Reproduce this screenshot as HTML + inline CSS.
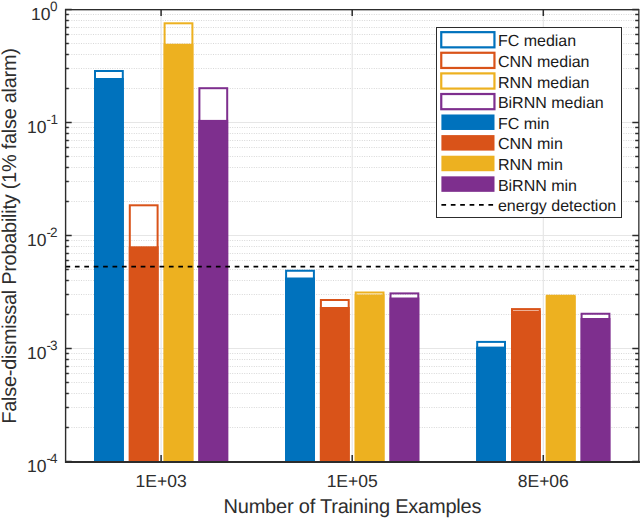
<!DOCTYPE html>
<html><head><meta charset="utf-8"><style>svg text{font-family:"Liberation Sans",sans-serif;text-rendering:geometricPrecision}html,body{margin:0;padding:0;background:#fff;width:640px;height:518px;overflow:hidden}</style></head><body>
<svg width="640" height="518" viewBox="0 0 640 518" style="display:block">
<rect x="0" y="0" width="640" height="518" fill="#fff"/>
<line x1="69.0" y1="88.5" x2="635.0" y2="88.5" stroke="#d8d8d8" stroke-width="1" stroke-dasharray="1 1.4"/>
<line x1="69.0" y1="68.5" x2="635.0" y2="68.5" stroke="#d8d8d8" stroke-width="1" stroke-dasharray="1 1.4"/>
<line x1="69.0" y1="54.5" x2="635.0" y2="54.5" stroke="#d8d8d8" stroke-width="1" stroke-dasharray="1 1.4"/>
<line x1="69.0" y1="43.5" x2="635.0" y2="43.5" stroke="#d8d8d8" stroke-width="1" stroke-dasharray="1 1.4"/>
<line x1="69.0" y1="34.5" x2="635.0" y2="34.5" stroke="#d8d8d8" stroke-width="1" stroke-dasharray="1 1.4"/>
<line x1="69.0" y1="27.5" x2="635.0" y2="27.5" stroke="#d8d8d8" stroke-width="1" stroke-dasharray="1 1.4"/>
<line x1="69.0" y1="20.5" x2="635.0" y2="20.5" stroke="#d8d8d8" stroke-width="1" stroke-dasharray="1 1.4"/>
<line x1="69.0" y1="14.5" x2="635.0" y2="14.5" stroke="#d8d8d8" stroke-width="1" stroke-dasharray="1 1.4"/>
<line x1="69.0" y1="201.5" x2="635.0" y2="201.5" stroke="#d8d8d8" stroke-width="1" stroke-dasharray="1 1.4"/>
<line x1="69.0" y1="181.5" x2="635.0" y2="181.5" stroke="#d8d8d8" stroke-width="1" stroke-dasharray="1 1.4"/>
<line x1="69.0" y1="167.5" x2="635.0" y2="167.5" stroke="#d8d8d8" stroke-width="1" stroke-dasharray="1 1.4"/>
<line x1="69.0" y1="156.5" x2="635.0" y2="156.5" stroke="#d8d8d8" stroke-width="1" stroke-dasharray="1 1.4"/>
<line x1="69.0" y1="147.5" x2="635.0" y2="147.5" stroke="#d8d8d8" stroke-width="1" stroke-dasharray="1 1.4"/>
<line x1="69.0" y1="140.5" x2="635.0" y2="140.5" stroke="#d8d8d8" stroke-width="1" stroke-dasharray="1 1.4"/>
<line x1="69.0" y1="133.5" x2="635.0" y2="133.5" stroke="#d8d8d8" stroke-width="1" stroke-dasharray="1 1.4"/>
<line x1="69.0" y1="127.5" x2="635.0" y2="127.5" stroke="#d8d8d8" stroke-width="1" stroke-dasharray="1 1.4"/>
<line x1="69.0" y1="314.5" x2="635.0" y2="314.5" stroke="#d8d8d8" stroke-width="1" stroke-dasharray="1 1.4"/>
<line x1="69.0" y1="294.5" x2="635.0" y2="294.5" stroke="#d8d8d8" stroke-width="1" stroke-dasharray="1 1.4"/>
<line x1="69.0" y1="280.5" x2="635.0" y2="280.5" stroke="#d8d8d8" stroke-width="1" stroke-dasharray="1 1.4"/>
<line x1="69.0" y1="269.5" x2="635.0" y2="269.5" stroke="#d8d8d8" stroke-width="1" stroke-dasharray="1 1.4"/>
<line x1="69.0" y1="260.5" x2="635.0" y2="260.5" stroke="#d8d8d8" stroke-width="1" stroke-dasharray="1 1.4"/>
<line x1="69.0" y1="253.5" x2="635.0" y2="253.5" stroke="#d8d8d8" stroke-width="1" stroke-dasharray="1 1.4"/>
<line x1="69.0" y1="246.5" x2="635.0" y2="246.5" stroke="#d8d8d8" stroke-width="1" stroke-dasharray="1 1.4"/>
<line x1="69.0" y1="240.5" x2="635.0" y2="240.5" stroke="#d8d8d8" stroke-width="1" stroke-dasharray="1 1.4"/>
<line x1="69.0" y1="427.5" x2="635.0" y2="427.5" stroke="#d8d8d8" stroke-width="1" stroke-dasharray="1 1.4"/>
<line x1="69.0" y1="407.5" x2="635.0" y2="407.5" stroke="#d8d8d8" stroke-width="1" stroke-dasharray="1 1.4"/>
<line x1="69.0" y1="393.5" x2="635.0" y2="393.5" stroke="#d8d8d8" stroke-width="1" stroke-dasharray="1 1.4"/>
<line x1="69.0" y1="382.5" x2="635.0" y2="382.5" stroke="#d8d8d8" stroke-width="1" stroke-dasharray="1 1.4"/>
<line x1="69.0" y1="373.5" x2="635.0" y2="373.5" stroke="#d8d8d8" stroke-width="1" stroke-dasharray="1 1.4"/>
<line x1="69.0" y1="366.5" x2="635.0" y2="366.5" stroke="#d8d8d8" stroke-width="1" stroke-dasharray="1 1.4"/>
<line x1="69.0" y1="359.5" x2="635.0" y2="359.5" stroke="#d8d8d8" stroke-width="1" stroke-dasharray="1 1.4"/>
<line x1="69.0" y1="353.5" x2="635.0" y2="353.5" stroke="#d8d8d8" stroke-width="1" stroke-dasharray="1 1.4"/>
<line x1="65.0" y1="122.5" x2="639.0" y2="122.5" stroke="#e6e6e6" stroke-width="1"/>
<line x1="65.0" y1="235.5" x2="639.0" y2="235.5" stroke="#e6e6e6" stroke-width="1"/>
<line x1="65.0" y1="348.5" x2="639.0" y2="348.5" stroke="#e6e6e6" stroke-width="1"/>
<line x1="161.1" y1="9.0" x2="161.1" y2="462.0" stroke="#e6e6e6" stroke-width="1.2"/>
<line x1="352.2" y1="9.0" x2="352.2" y2="462.0" stroke="#e6e6e6" stroke-width="1.2"/>
<line x1="543.3" y1="9.0" x2="543.3" y2="462.0" stroke="#e6e6e6" stroke-width="1.2"/>
<rect x="95.00" y="71.00" width="27.80" height="391.00" fill="none" stroke="#0072BD" stroke-width="2"/>
<rect x="94.00" y="78.00" width="29.80" height="384.00" fill="#0072BD"/>
<rect x="129.80" y="205.30" width="27.80" height="256.70" fill="none" stroke="#D95319" stroke-width="2"/>
<rect x="128.80" y="246.30" width="29.80" height="215.70" fill="#D95319"/>
<rect x="164.60" y="23.30" width="27.80" height="438.70" fill="none" stroke="#EDB120" stroke-width="2"/>
<rect x="163.60" y="43.75" width="29.80" height="418.25" fill="#EDB120"/>
<rect x="199.40" y="88.20" width="27.80" height="373.80" fill="none" stroke="#7E2F8E" stroke-width="2"/>
<rect x="198.40" y="119.90" width="29.80" height="342.10" fill="#7E2F8E"/>
<rect x="286.10" y="270.75" width="27.80" height="191.25" fill="none" stroke="#0072BD" stroke-width="2"/>
<rect x="285.10" y="277.50" width="29.80" height="184.50" fill="#0072BD"/>
<rect x="320.90" y="300.00" width="27.80" height="162.00" fill="none" stroke="#D95319" stroke-width="2"/>
<rect x="319.90" y="307.00" width="29.80" height="155.00" fill="#D95319"/>
<rect x="355.70" y="292.50" width="27.80" height="169.50" fill="none" stroke="#EDB120" stroke-width="2"/>
<rect x="354.70" y="294.40" width="29.80" height="167.60" fill="#EDB120"/>
<rect x="390.50" y="293.40" width="27.80" height="168.60" fill="none" stroke="#7E2F8E" stroke-width="2"/>
<rect x="389.50" y="297.50" width="29.80" height="164.50" fill="#7E2F8E"/>
<rect x="477.20" y="341.90" width="27.80" height="120.10" fill="none" stroke="#0072BD" stroke-width="2"/>
<rect x="476.20" y="346.60" width="29.80" height="115.40" fill="#0072BD"/>
<rect x="512.00" y="309.10" width="27.80" height="152.90" fill="none" stroke="#D95319" stroke-width="2"/>
<rect x="511.00" y="310.60" width="29.80" height="151.40" fill="#D95319"/>
<rect x="546.80" y="295.75" width="27.80" height="166.25" fill="none" stroke="#EDB120" stroke-width="2"/>
<rect x="545.80" y="296.00" width="29.80" height="166.00" fill="#EDB120"/>
<rect x="581.60" y="313.75" width="27.80" height="148.25" fill="none" stroke="#7E2F8E" stroke-width="2"/>
<rect x="580.60" y="318.00" width="29.80" height="144.00" fill="#7E2F8E"/>
<line x1="65.5" y1="266.7" x2="639.0" y2="266.7" stroke="#000" stroke-width="1.7" stroke-dasharray="4.7 4.7"/>
<rect x="64.9" y="9" width="1.4" height="454" fill="#2c2c2c"/>
<rect x="65" y="9" width="574" height="1.35" fill="#2c2c2c"/>
<rect x="638" y="9" width="1" height="454" fill="#555"/>
<rect x="639" y="9" width="1" height="454" fill="#9a9a9a"/>
<rect x="65" y="461" width="575" height="2" fill="#2c2c2c"/>
<line x1="65.0" y1="9.5" x2="71.7" y2="9.5" stroke="#2c2c2c" stroke-width="1.5"/>
<line x1="632.3" y1="9.5" x2="639.0" y2="9.5" stroke="#2c2c2c" stroke-width="1.5"/>
<line x1="65.0" y1="122.5" x2="71.7" y2="122.5" stroke="#2c2c2c" stroke-width="1.5"/>
<line x1="632.3" y1="122.5" x2="639.0" y2="122.5" stroke="#2c2c2c" stroke-width="1.5"/>
<line x1="65.0" y1="235.5" x2="71.7" y2="235.5" stroke="#2c2c2c" stroke-width="1.5"/>
<line x1="632.3" y1="235.5" x2="639.0" y2="235.5" stroke="#2c2c2c" stroke-width="1.5"/>
<line x1="65.0" y1="348.5" x2="71.7" y2="348.5" stroke="#2c2c2c" stroke-width="1.5"/>
<line x1="632.3" y1="348.5" x2="639.0" y2="348.5" stroke="#2c2c2c" stroke-width="1.5"/>
<line x1="65.0" y1="461.5" x2="71.7" y2="461.5" stroke="#2c2c2c" stroke-width="1.5"/>
<line x1="632.3" y1="461.5" x2="639.0" y2="461.5" stroke="#2c2c2c" stroke-width="1.5"/>
<line x1="65.0" y1="88.5" x2="68.8" y2="88.5" stroke="#2c2c2c" stroke-width="1.5"/>
<line x1="635.2" y1="88.5" x2="639.0" y2="88.5" stroke="#2c2c2c" stroke-width="1.5"/>
<line x1="65.0" y1="68.5" x2="68.8" y2="68.5" stroke="#2c2c2c" stroke-width="1.5"/>
<line x1="635.2" y1="68.5" x2="639.0" y2="68.5" stroke="#2c2c2c" stroke-width="1.5"/>
<line x1="65.0" y1="54.5" x2="68.8" y2="54.5" stroke="#2c2c2c" stroke-width="1.5"/>
<line x1="635.2" y1="54.5" x2="639.0" y2="54.5" stroke="#2c2c2c" stroke-width="1.5"/>
<line x1="65.0" y1="43.5" x2="68.8" y2="43.5" stroke="#2c2c2c" stroke-width="1.5"/>
<line x1="635.2" y1="43.5" x2="639.0" y2="43.5" stroke="#2c2c2c" stroke-width="1.5"/>
<line x1="65.0" y1="34.5" x2="68.8" y2="34.5" stroke="#2c2c2c" stroke-width="1.5"/>
<line x1="635.2" y1="34.5" x2="639.0" y2="34.5" stroke="#2c2c2c" stroke-width="1.5"/>
<line x1="65.0" y1="27.5" x2="68.8" y2="27.5" stroke="#2c2c2c" stroke-width="1.5"/>
<line x1="635.2" y1="27.5" x2="639.0" y2="27.5" stroke="#2c2c2c" stroke-width="1.5"/>
<line x1="65.0" y1="20.5" x2="68.8" y2="20.5" stroke="#2c2c2c" stroke-width="1.5"/>
<line x1="635.2" y1="20.5" x2="639.0" y2="20.5" stroke="#2c2c2c" stroke-width="1.5"/>
<line x1="65.0" y1="14.5" x2="68.8" y2="14.5" stroke="#2c2c2c" stroke-width="1.5"/>
<line x1="635.2" y1="14.5" x2="639.0" y2="14.5" stroke="#2c2c2c" stroke-width="1.5"/>
<line x1="65.0" y1="201.5" x2="68.8" y2="201.5" stroke="#2c2c2c" stroke-width="1.5"/>
<line x1="635.2" y1="201.5" x2="639.0" y2="201.5" stroke="#2c2c2c" stroke-width="1.5"/>
<line x1="65.0" y1="181.5" x2="68.8" y2="181.5" stroke="#2c2c2c" stroke-width="1.5"/>
<line x1="635.2" y1="181.5" x2="639.0" y2="181.5" stroke="#2c2c2c" stroke-width="1.5"/>
<line x1="65.0" y1="167.5" x2="68.8" y2="167.5" stroke="#2c2c2c" stroke-width="1.5"/>
<line x1="635.2" y1="167.5" x2="639.0" y2="167.5" stroke="#2c2c2c" stroke-width="1.5"/>
<line x1="65.0" y1="156.5" x2="68.8" y2="156.5" stroke="#2c2c2c" stroke-width="1.5"/>
<line x1="635.2" y1="156.5" x2="639.0" y2="156.5" stroke="#2c2c2c" stroke-width="1.5"/>
<line x1="65.0" y1="147.5" x2="68.8" y2="147.5" stroke="#2c2c2c" stroke-width="1.5"/>
<line x1="635.2" y1="147.5" x2="639.0" y2="147.5" stroke="#2c2c2c" stroke-width="1.5"/>
<line x1="65.0" y1="140.5" x2="68.8" y2="140.5" stroke="#2c2c2c" stroke-width="1.5"/>
<line x1="635.2" y1="140.5" x2="639.0" y2="140.5" stroke="#2c2c2c" stroke-width="1.5"/>
<line x1="65.0" y1="133.5" x2="68.8" y2="133.5" stroke="#2c2c2c" stroke-width="1.5"/>
<line x1="635.2" y1="133.5" x2="639.0" y2="133.5" stroke="#2c2c2c" stroke-width="1.5"/>
<line x1="65.0" y1="127.5" x2="68.8" y2="127.5" stroke="#2c2c2c" stroke-width="1.5"/>
<line x1="635.2" y1="127.5" x2="639.0" y2="127.5" stroke="#2c2c2c" stroke-width="1.5"/>
<line x1="65.0" y1="314.5" x2="68.8" y2="314.5" stroke="#2c2c2c" stroke-width="1.5"/>
<line x1="635.2" y1="314.5" x2="639.0" y2="314.5" stroke="#2c2c2c" stroke-width="1.5"/>
<line x1="65.0" y1="294.5" x2="68.8" y2="294.5" stroke="#2c2c2c" stroke-width="1.5"/>
<line x1="635.2" y1="294.5" x2="639.0" y2="294.5" stroke="#2c2c2c" stroke-width="1.5"/>
<line x1="65.0" y1="280.5" x2="68.8" y2="280.5" stroke="#2c2c2c" stroke-width="1.5"/>
<line x1="635.2" y1="280.5" x2="639.0" y2="280.5" stroke="#2c2c2c" stroke-width="1.5"/>
<line x1="65.0" y1="269.5" x2="68.8" y2="269.5" stroke="#2c2c2c" stroke-width="1.5"/>
<line x1="635.2" y1="269.5" x2="639.0" y2="269.5" stroke="#2c2c2c" stroke-width="1.5"/>
<line x1="65.0" y1="260.5" x2="68.8" y2="260.5" stroke="#2c2c2c" stroke-width="1.5"/>
<line x1="635.2" y1="260.5" x2="639.0" y2="260.5" stroke="#2c2c2c" stroke-width="1.5"/>
<line x1="65.0" y1="253.5" x2="68.8" y2="253.5" stroke="#2c2c2c" stroke-width="1.5"/>
<line x1="635.2" y1="253.5" x2="639.0" y2="253.5" stroke="#2c2c2c" stroke-width="1.5"/>
<line x1="65.0" y1="246.5" x2="68.8" y2="246.5" stroke="#2c2c2c" stroke-width="1.5"/>
<line x1="635.2" y1="246.5" x2="639.0" y2="246.5" stroke="#2c2c2c" stroke-width="1.5"/>
<line x1="65.0" y1="240.5" x2="68.8" y2="240.5" stroke="#2c2c2c" stroke-width="1.5"/>
<line x1="635.2" y1="240.5" x2="639.0" y2="240.5" stroke="#2c2c2c" stroke-width="1.5"/>
<line x1="65.0" y1="427.5" x2="68.8" y2="427.5" stroke="#2c2c2c" stroke-width="1.5"/>
<line x1="635.2" y1="427.5" x2="639.0" y2="427.5" stroke="#2c2c2c" stroke-width="1.5"/>
<line x1="65.0" y1="407.5" x2="68.8" y2="407.5" stroke="#2c2c2c" stroke-width="1.5"/>
<line x1="635.2" y1="407.5" x2="639.0" y2="407.5" stroke="#2c2c2c" stroke-width="1.5"/>
<line x1="65.0" y1="393.5" x2="68.8" y2="393.5" stroke="#2c2c2c" stroke-width="1.5"/>
<line x1="635.2" y1="393.5" x2="639.0" y2="393.5" stroke="#2c2c2c" stroke-width="1.5"/>
<line x1="65.0" y1="382.5" x2="68.8" y2="382.5" stroke="#2c2c2c" stroke-width="1.5"/>
<line x1="635.2" y1="382.5" x2="639.0" y2="382.5" stroke="#2c2c2c" stroke-width="1.5"/>
<line x1="65.0" y1="373.5" x2="68.8" y2="373.5" stroke="#2c2c2c" stroke-width="1.5"/>
<line x1="635.2" y1="373.5" x2="639.0" y2="373.5" stroke="#2c2c2c" stroke-width="1.5"/>
<line x1="65.0" y1="366.5" x2="68.8" y2="366.5" stroke="#2c2c2c" stroke-width="1.5"/>
<line x1="635.2" y1="366.5" x2="639.0" y2="366.5" stroke="#2c2c2c" stroke-width="1.5"/>
<line x1="65.0" y1="359.5" x2="68.8" y2="359.5" stroke="#2c2c2c" stroke-width="1.5"/>
<line x1="635.2" y1="359.5" x2="639.0" y2="359.5" stroke="#2c2c2c" stroke-width="1.5"/>
<line x1="65.0" y1="353.5" x2="68.8" y2="353.5" stroke="#2c2c2c" stroke-width="1.5"/>
<line x1="635.2" y1="353.5" x2="639.0" y2="353.5" stroke="#2c2c2c" stroke-width="1.5"/>
<line x1="161.1" y1="462.0" x2="161.1" y2="455.0" stroke="#2c2c2c" stroke-width="1.5"/>
<line x1="161.1" y1="9.0" x2="161.1" y2="16.0" stroke="#2c2c2c" stroke-width="1.5"/>
<line x1="352.2" y1="462.0" x2="352.2" y2="455.0" stroke="#2c2c2c" stroke-width="1.5"/>
<line x1="352.2" y1="9.0" x2="352.2" y2="16.0" stroke="#2c2c2c" stroke-width="1.5"/>
<line x1="543.3" y1="462.0" x2="543.3" y2="455.0" stroke="#2c2c2c" stroke-width="1.5"/>
<line x1="543.3" y1="9.0" x2="543.3" y2="16.0" stroke="#2c2c2c" stroke-width="1.5"/>
<text x="31.0" y="19.80" font-size="17.5" fill="#2e2e2e">10</text>
<text x="50.0" y="10.80" font-size="13.5" fill="#2e2e2e">0</text>
<text x="27.0" y="132.80" font-size="17.5" fill="#2e2e2e">10</text>
<text x="46.5" y="123.80" font-size="13.5" fill="#2e2e2e">-</text>
<text x="50.5" y="123.80" font-size="13.5" fill="#2e2e2e">1</text>
<text x="27.0" y="245.80" font-size="17.5" fill="#2e2e2e">10</text>
<text x="46.5" y="236.80" font-size="13.5" fill="#2e2e2e">-</text>
<text x="50.0" y="236.80" font-size="13.5" fill="#2e2e2e">2</text>
<text x="27.0" y="358.80" font-size="17.5" fill="#2e2e2e">10</text>
<text x="46.5" y="349.80" font-size="13.5" fill="#2e2e2e">-</text>
<text x="50.0" y="349.80" font-size="13.5" fill="#2e2e2e">3</text>
<text x="27.0" y="471.80" font-size="17.5" fill="#2e2e2e">10</text>
<text x="46.5" y="462.80" font-size="13.5" fill="#2e2e2e">-</text>
<text x="50.0" y="462.80" font-size="13.5" fill="#2e2e2e">4</text>
<text x="161.10" y="486.8" text-anchor="middle" font-size="17.5" fill="#2e2e2e">1E+03</text>
<text x="352.20" y="486.8" text-anchor="middle" font-size="17.5" fill="#2e2e2e">1E+05</text>
<text x="543.30" y="486.8" text-anchor="middle" font-size="17.5" fill="#2e2e2e">8E+06</text>
<text x="352.5" y="512.6" text-anchor="middle" font-size="20" fill="#2e2e2e" textLength="258" lengthAdjust="spacing">Number of Training Examples</text>
<text transform="translate(15.9,235.8) rotate(-90)" x="0" y="0" text-anchor="middle" font-size="20" fill="#2e2e2e" textLength="375.7" lengthAdjust="spacing">False-dismissal Probability (1% false alarm)</text>
<rect x="436.5" y="27.5" width="185" height="190" fill="#fff" stroke="#2c2c2c" stroke-width="1"/>
<rect x="441.25" y="32.15" width="53.2" height="15.2" fill="none" stroke="#0072BD" stroke-width="2.2"/>
<text x="497.9" y="46.35" font-size="16" fill="#1a1a1a">FC median</text>
<rect x="441.25" y="52.77" width="53.2" height="15.2" fill="none" stroke="#D95319" stroke-width="2.2"/>
<text x="497.9" y="66.97" font-size="16" fill="#1a1a1a">CNN median</text>
<rect x="441.25" y="73.39" width="53.2" height="15.2" fill="none" stroke="#EDB120" stroke-width="2.2"/>
<text x="497.9" y="87.59" font-size="16" fill="#1a1a1a">RNN median</text>
<rect x="441.25" y="94.01" width="53.2" height="15.2" fill="none" stroke="#7E2F8E" stroke-width="2.2"/>
<text x="497.9" y="108.21" font-size="16" fill="#1a1a1a">BiRNN median</text>
<rect x="441.4" y="114.48" width="53.1" height="15.5" fill="#0072BD"/>
<text x="497.9" y="128.83" font-size="16" fill="#1a1a1a">FC min</text>
<rect x="441.4" y="135.10" width="53.1" height="15.5" fill="#D95319"/>
<text x="497.9" y="149.45" font-size="16" fill="#1a1a1a">CNN min</text>
<rect x="441.4" y="155.72" width="53.1" height="15.5" fill="#EDB120"/>
<text x="497.9" y="170.07" font-size="16" fill="#1a1a1a">RNN min</text>
<rect x="441.4" y="176.34" width="53.1" height="15.5" fill="#7E2F8E"/>
<text x="497.9" y="190.69" font-size="16" fill="#1a1a1a">BiRNN min</text>
<line x1="441.4" y1="204.91" x2="494" y2="204.91" stroke="#000" stroke-width="1.7" stroke-dasharray="4.7 4.7"/>
<text x="497.9" y="211.31" font-size="16" fill="#1a1a1a">energy detection</text>
</svg>
</body></html>
